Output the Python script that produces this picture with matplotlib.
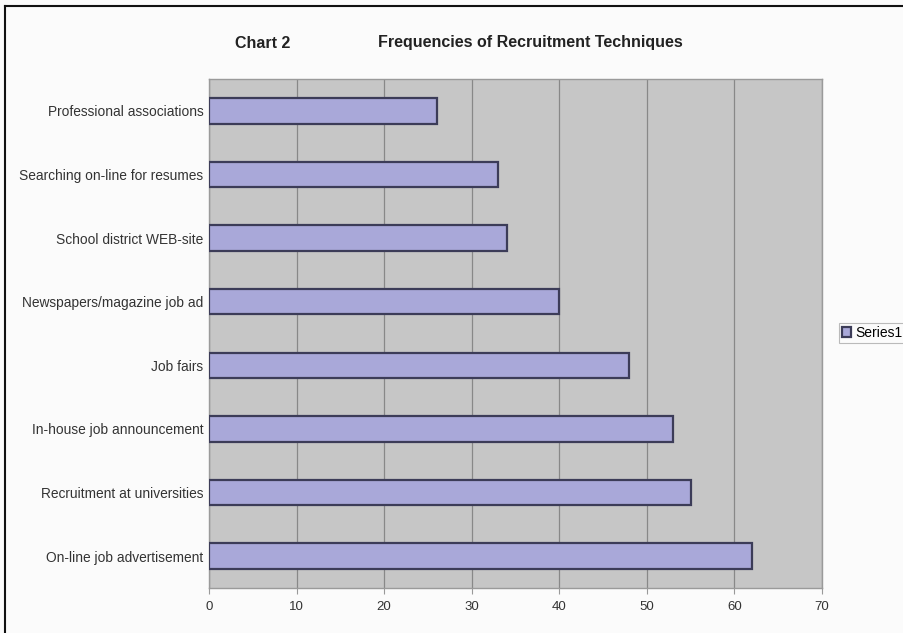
import matplotlib
matplotlib.use("Agg")
import matplotlib.pyplot as plt
from matplotlib.lines import Line2D

plt.rcParams['font.family'] = ['Liberation Sans', 'DejaVu Sans']

categories = [
    "On-line job advertisement",
    "Recruitment at universities",
    "In-house job announcement",
    "Job fairs",
    "Newspapers/magazine job ad",
    "School district WEB-site",
    "Searching on-line for resumes",
    "Professional associations",
]
values = [62, 55, 53, 48, 40, 34, 33, 26]
x_ticks = [0, 10, 20, 30, 40, 50, 60, 70]
series_name = "Series1"

W, H = 904, 633
fig = plt.figure(figsize=(W / 100, H / 100), dpi=100, facecolor="#fbfbfb")

ax = fig.add_axes([209 / W, 1 - 588 / H, (822 - 209) / W, (588 - 79) / H])
ax.set_facecolor("#c6c6c6")

pos = list(range(len(categories)))
ax.barh(pos, values, height=0.4, color="#a9a8d9", edgecolor="#3c3c58",
        linewidth=1.6, label=series_name, zorder=3)

ax.set_xlim(0, 70)
ax.set_ylim(-0.5, len(categories) - 0.5)
ax.set_xticks(x_ticks)
ax.set_xticklabels([str(t) for t in x_ticks], fontsize=9.5, color="#333333")
ax.set_yticks(pos)
ax.set_yticklabels(categories, fontsize=9.9, color="#333333")
ax.tick_params(axis="y", length=0, pad=4)
ax.tick_params(axis="x", length=4, width=0.8, color="#999999", pad=5, direction="out")
ax.xaxis.grid(True, color="#888888", linewidth=0.9, zorder=1)
ax.set_axisbelow(True)
for side, sp in ax.spines.items():
    sp.set_color("#9a9a9a")
    sp.set_linewidth(1.0)

fig.text(263 / W, 1 - 43 / H, "Chart 2", fontsize=11.5, fontweight="bold",
         ha="center", va="center", color="#222222")
fig.text(530 / W, 1 - 43 / H, "Frequencies of Recruitment Techniques", fontsize=11.5,
         fontweight="bold", ha="center", va="center", color="#222222")

leg = ax.legend(loc="center left", bbox_to_anchor=(839 / W, 1 - 333 / H),
                bbox_transform=fig.transFigure, fontsize=10, frameon=True,
                fancybox=False, handlelength=0.7, handleheight=0.7,
                handletextpad=0.3, borderpad=0.2, borderaxespad=0)
leg.get_frame().set_edgecolor("#aaaaaa")
leg.get_frame().set_linewidth(0.8)
leg.get_frame().set_facecolor("#fbfbfb")

# chart-area border on the left and top edges
fig.add_artist(Line2D([5.5 / W, 5.5 / W], [0, 1 - 6 / H], color="#111111",
                      linewidth=1.5, transform=fig.transFigure))
fig.add_artist(Line2D([5.5 / W, 1], [1 - 6 / H, 1 - 6 / H], color="#111111",
                      linewidth=1.5, transform=fig.transFigure))

fig.savefig("out.png", dpi=100, facecolor=fig.get_facecolor())
